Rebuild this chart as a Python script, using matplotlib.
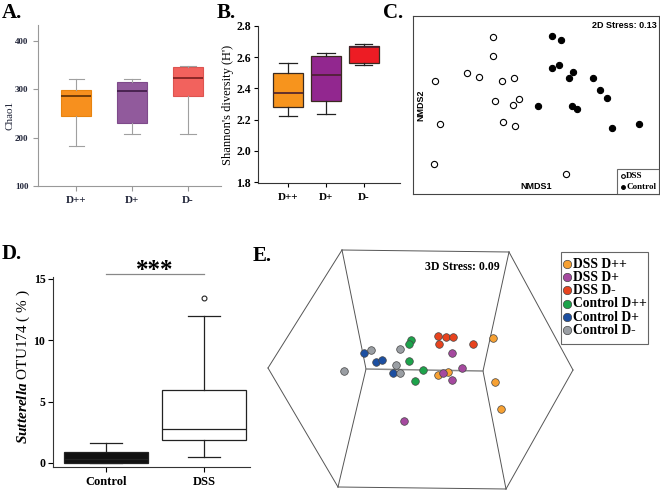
import numpy as np
import matplotlib.pyplot as plt
from matplotlib.patches import Rectangle

plt.rcParams['font.family'] = ['Liberation Serif', 'DejaVu Serif']
plt.rcParams['font.weight'] = 'bold'
plt.rcParams['mathtext.fontset'] = 'custom'
plt.rcParams['mathtext.it'] = 'Liberation Serif:italic:bold'
plt.rcParams['mathtext.rm'] = 'Liberation Serif:bold'

W, H = 660, 492


def box_at(l, t, r, b):
    return [l / W, 1 - b / H, (r - l) / W, (b - t) / H]


def make_stats(lo, q1, med, q3, hi, fliers=None):
    if fliers is None:
        fliers = [[] for _ in lo]
    return [dict(whislo=a, q1=b, med=c, q3=d, whishi=e, fliers=f)
            for a, b, c, d, e, f in zip(lo, q1, med, q3, hi, fliers)]


groups = ['D++', 'D+', 'D-']

# A. Chao1
chao_lo = [183, 208, 208]
chao_q1 = [245, 230, 285]
chao_med = [286, 295, 322]
chao_q3 = [297, 315, 346]
chao_hi = [321, 320, 347]

# B. Shannon diversity
shan_lo = [2.227, 2.238, 2.55]
shan_q1 = [2.284, 2.322, 2.565]
shan_med = [2.368, 2.486, 2.665]
shan_q3 = [2.497, 2.606, 2.67]
shan_hi = [2.564, 2.627, 2.685]

# C. NMDS 2D
dss_x = [-0.35, -0.35, -0.56, -0.46, -0.82, -0.28, -0.18, -0.33, -0.19, -0.14,
         -0.78, -0.27, -0.17, -0.83, 0.24]
dss_y = [0.57, 0.41, 0.27, 0.24, 0.20, 0.20, 0.23, 0.03, 0.00, 0.05,
         -0.16, -0.14, -0.18, -0.50, -0.58]
ctl_x = [0.13, 0.20, 0.13, 0.19, 0.30, 0.27, 0.46, 0.52, 0.58, 0.02, 0.29, 0.33, 0.62, 0.84]
ctl_y = [0.58, 0.55, 0.31, 0.34, 0.28, 0.23, 0.23, 0.13, 0.06, -0.01, -0.01, -0.03, -0.19, -0.16]

# D. Sutterella OTU174
sut_groups = ['Control', 'DSS']
sut_lo = [0.0, 0.45]
sut_q1 = [0.02, 1.88]
sut_med = [0.3, 2.74]
sut_q3 = [0.86, 5.91]
sut_hi = [1.6, 12.0]
sut_fliers = [[], [13.44]]

# E. NMDS 3D (projected)
e_labels = ['DSS D++', 'DSS D+', 'DSS D-', 'Control D++', 'Control D+', 'Control D-']
e_colors = ['#F7A133', '#A5499F', '#E8431E', '#1DA34B', '#1C4FA1', '#9A9EA3']
e_x = [[0.73, 0.75, 0.81, 0.18, 0.28],
       [0.32, 0.42, 0.23, 0.32, -0.16],
       [0.18, 0.26, 0.33, 0.19, 0.53],
       [-0.09, -0.11, -0.11, 0.03, -0.05],
       [-0.56, -0.44, -0.38, -0.27],
       [-0.49, -0.20, -0.24, -0.20, -0.76]]
e_y = [[0.32, -0.12, -0.39, -0.05, -0.02],
       [0.17, 0.02, -0.03, -0.10, -0.51],
       [0.34, 0.33, 0.33, 0.26, 0.26],
       [0.30, 0.26, 0.09, 0.00, -0.11],
       [0.17, 0.08, 0.10, -0.03],
       [0.20, 0.21, 0.05, -0.03, -0.01]]
# projected cube frame
cube_pts = {'L': (-1.52, 0.02), 'TL': (-0.78, 1.20), 'TR': (0.89, 1.18), 'R': (1.53, 0.00),
            'BR': (0.86, -1.19), 'BL': (-0.82, -1.17), 'IL': (-0.54, 0.01), 'IR': (0.63, -0.01)}
cube_edges = [('L', 'TL'), ('TL', 'TR'), ('TR', 'R'), ('R', 'BR'), ('BR', 'BL'), ('BL', 'L'),
              ('TL', 'IL'), ('IL', 'BL'), ('TR', 'IR'), ('IR', 'BR')]

fig = plt.figure(figsize=(6.6, 4.92), dpi=100)

# ---------------- A ----------------
axA = fig.add_axes(box_at(38, 25, 221, 186))
bA = axA.bxp(make_stats(chao_lo, chao_q1, chao_med, chao_q3, chao_hi), positions=[1, 2, 3],
             widths=0.54, patch_artist=True, showfliers=False,
             boxprops=dict(linewidth=0.8),
             whiskerprops=dict(color='#a0a0a0', lw=0.8),
             capprops=dict(color='#a0a0a0', lw=0.8),
             medianprops=dict(lw=1.2))
for p, fc, ec, mc, m in zip(bA['boxes'], ['#F7901E', '#915A9C', '#F2625D'],
                            ['#E8840F', '#7E4A8A', '#DD5450'],
                            ['#5A2E05', '#3E1A45', '#7A1E1E'], bA['medians']):
    p.set_facecolor(fc)
    p.set_edgecolor(ec)
    m.set_color(mc)
axA.set_xlim(0.32, 3.59)
axA.set_ylim(100, 432)
axA.set_yticks([100, 200, 300, 400])
axA.set_xticks([1, 2, 3])
axA.set_xticklabels(groups, fontsize=8)
axA.tick_params(axis='y', labelsize=6.5, length=3.5, color='#999999', labelcolor='#22263a')
axA.tick_params(axis='x', length=3.5, color='#999999', labelcolor='#22263a', pad=4)
for s in ['top', 'right']:
    axA.spines[s].set_visible(False)
for s in ['left', 'bottom']:
    axA.spines[s].set_color('#999999')
    axA.spines[s].set_linewidth(0.8)
axA.set_ylabel('Chao1', fontsize=8, color='#22263a')
axA.yaxis.set_label_coords(-0.126, 0.44)

# ---------------- B ----------------
axB = fig.add_axes(box_at(258, 26, 400, 183))
bB = axB.bxp(make_stats(shan_lo, shan_q1, shan_med, shan_q3, shan_hi), positions=[1, 2, 3],
             widths=0.8, patch_artist=True, showfliers=False, capwidths=0.45,
             boxprops=dict(linewidth=0.9, edgecolor='#3a2a20'),
             whiskerprops=dict(color='#222222', lw=0.9),
             capprops=dict(color='#222222', lw=0.9),
             medianprops=dict(lw=1.2, color='#4a2030'))
for p, fc in zip(bB['boxes'], ['#F7941D', '#92278F', '#ED1C24']):
    p.set_facecolor(fc)
axB.set_xlim(0.21, 3.95)
axB.set_ylim(1.795, 2.8)
axB.set_yticks([1.8, 2.0, 2.2, 2.4, 2.6, 2.8])
axB.set_yticklabels(['1.8', '2.0', '2.2', '2.4', '2.6', '2.8'])
axB.set_xticks([1, 2, 3])
axB.set_xticklabels(groups, fontsize=8)
axB.tick_params(axis='y', labelsize=8.5, length=3, pad=2)
axB.tick_params(axis='x', length=3, pad=4)
for s in ['top', 'right']:
    axB.spines[s].set_visible(False)
for s in ['left', 'bottom']:
    axB.spines[s].set_color('#333333')
axB.set_ylabel("Shannon's diversity (H')", fontsize=9, labelpad=2)

# ---------------- C ----------------
axC = fig.add_axes(box_at(413, 16, 659, 194))
axC.scatter(dss_x, dss_y, s=20, facecolors='white', edgecolors='black', linewidths=0.8, label='DSS')
axC.scatter(ctl_x, ctl_y, s=20, facecolors='black', edgecolors='black', linewidths=0.8, label='Control')
axC.set_xlim(-1, 1)
axC.set_ylim(-0.75, 0.75)
axC.set_xticks([])
axC.set_yticks([])
for s in axC.spines.values():
    s.set_color('#444444')
    s.set_linewidth(0.8)
sans = ['Liberation Sans Narrow', 'Liberation Sans', 'DejaVu Sans']
axC.text(0.99, 0.97, '2D Stress: 0.13', transform=axC.transAxes, ha='right', va='top',
         fontsize=6.5, family=sans, weight='bold')
axC.text(0.5, 0.015, 'NMDS1', transform=axC.transAxes, ha='center', va='bottom',
         fontsize=6.5, family=sans, weight='bold')
axC.text(0.012, 0.5, 'NMDS2', transform=axC.transAxes, ha='left', va='center', rotation=90,
         fontsize=6.5, family=sans, weight='bold')
legC = axC.legend(loc='lower right', fontsize=6.5, frameon=True, fancybox=False, edgecolor='#444444',
                  handletextpad=0.1, handlelength=0.6, borderpad=0.3, labelspacing=0.3,
                  markerscale=0.6, borderaxespad=0)
legC.get_frame().set_linewidth(0.8)

# ---------------- D ----------------
axD = fig.add_axes(box_at(53, 277, 250, 467))
bD = axD.bxp(make_stats(sut_lo, sut_q1, sut_med, sut_q3, sut_hi, sut_fliers), positions=[1, 2],
             widths=0.85, patch_artist=True, showfliers=True, capwidths=0.33,
             boxprops=dict(linewidth=0.9, edgecolor='#222222'),
             whiskerprops=dict(color='#222222', lw=0.9),
             capprops=dict(color='#222222', lw=0.9),
             medianprops=dict(lw=0.9, color='#222222'),
             flierprops=dict(marker='o', markersize=3.5, markerfacecolor='white',
                             markeredgecolor='#222222', markeredgewidth=0.8))
for p, fc in zip(bD['boxes'], ['#111111', 'white']):
    p.set_facecolor(fc)
axD.set_xlim(0.459, 2.47)
axD.set_ylim(-0.33, 15.16)
axD.set_yticks([0, 5, 10, 15])
axD.set_xticks([1, 2])
axD.set_xticklabels(sut_groups, fontsize=9)
axD.tick_params(axis='y', labelsize=8.5, length=3.5, pad=2)
axD.tick_params(axis='x', length=3.5, pad=3)
for s in ['top', 'right']:
    axD.spines[s].set_visible(False)
for s in ['left', 'bottom']:
    axD.spines[s].set_color('#333333')
axD.set_ylabel(r'$\it{Sutterella}$ OTU174 ( % )', fontsize=11)
axD.yaxis.set_label_coords(-0.107, 0.526)
axD.plot([1, 2], [15.42, 15.42], color='#888888', lw=0.9, clip_on=False)
axD.text(1.5, 15.12, '***', ha='center', va='baseline', fontsize=18, clip_on=False)

# ---------------- E ----------------
axE = fig.add_axes(box_at(260, 245, 580, 492))
for a, b in cube_edges:
    axE.plot([cube_pts[a][0], cube_pts[b][0]], [cube_pts[a][1], cube_pts[b][1]],
             color='#555555', lw=0.7)
axE.plot([cube_pts['IL'][0], cube_pts['IR'][0]], [cube_pts['IL'][1], cube_pts['IR'][1]],
         color='#8a8a8a', lw=1.1)
for xs, ys, c, lab in zip(e_x, e_y, e_colors, e_labels):
    axE.scatter(xs, ys, s=30, color=c, edgecolors='#444444', linewidths=0.5, zorder=3, label=lab)
axE.set_xlim(-1.6, 1.6)
axE.set_ylim(-1.22, 1.25)
axE.axis('off')
axE.text(0.8, 1.03, '3D Stress: 0.09', ha='right', va='center', fontsize=8.5)
legE = axE.legend(loc='upper left', bbox_to_anchor=(562.4 / W, 1 - 257.5 / H), bbox_transform=fig.transFigure,
                  fontsize=9.8, frameon=False, handletextpad=0.1, handlelength=0.7,
                  borderpad=0, labelspacing=0.02, borderaxespad=0, markerscale=1.1)
fig.patches.append(Rectangle((561 / W, 1 - 344 / H), 87 / W, 92 / H, transform=fig.transFigure,
                             fill=False, edgecolor='#666666', lw=0.8))

# panel letters
for lab, x, y in [('A.', 2, 18), ('B.', 217, 18), ('C.', 383, 18), ('D.', 2, 259), ('E.', 253, 261)]:
    fig.text(x / W, 1 - y / H, lab, fontsize=15, ha='left', va='baseline')

fig.savefig('out.png', dpi=100)
